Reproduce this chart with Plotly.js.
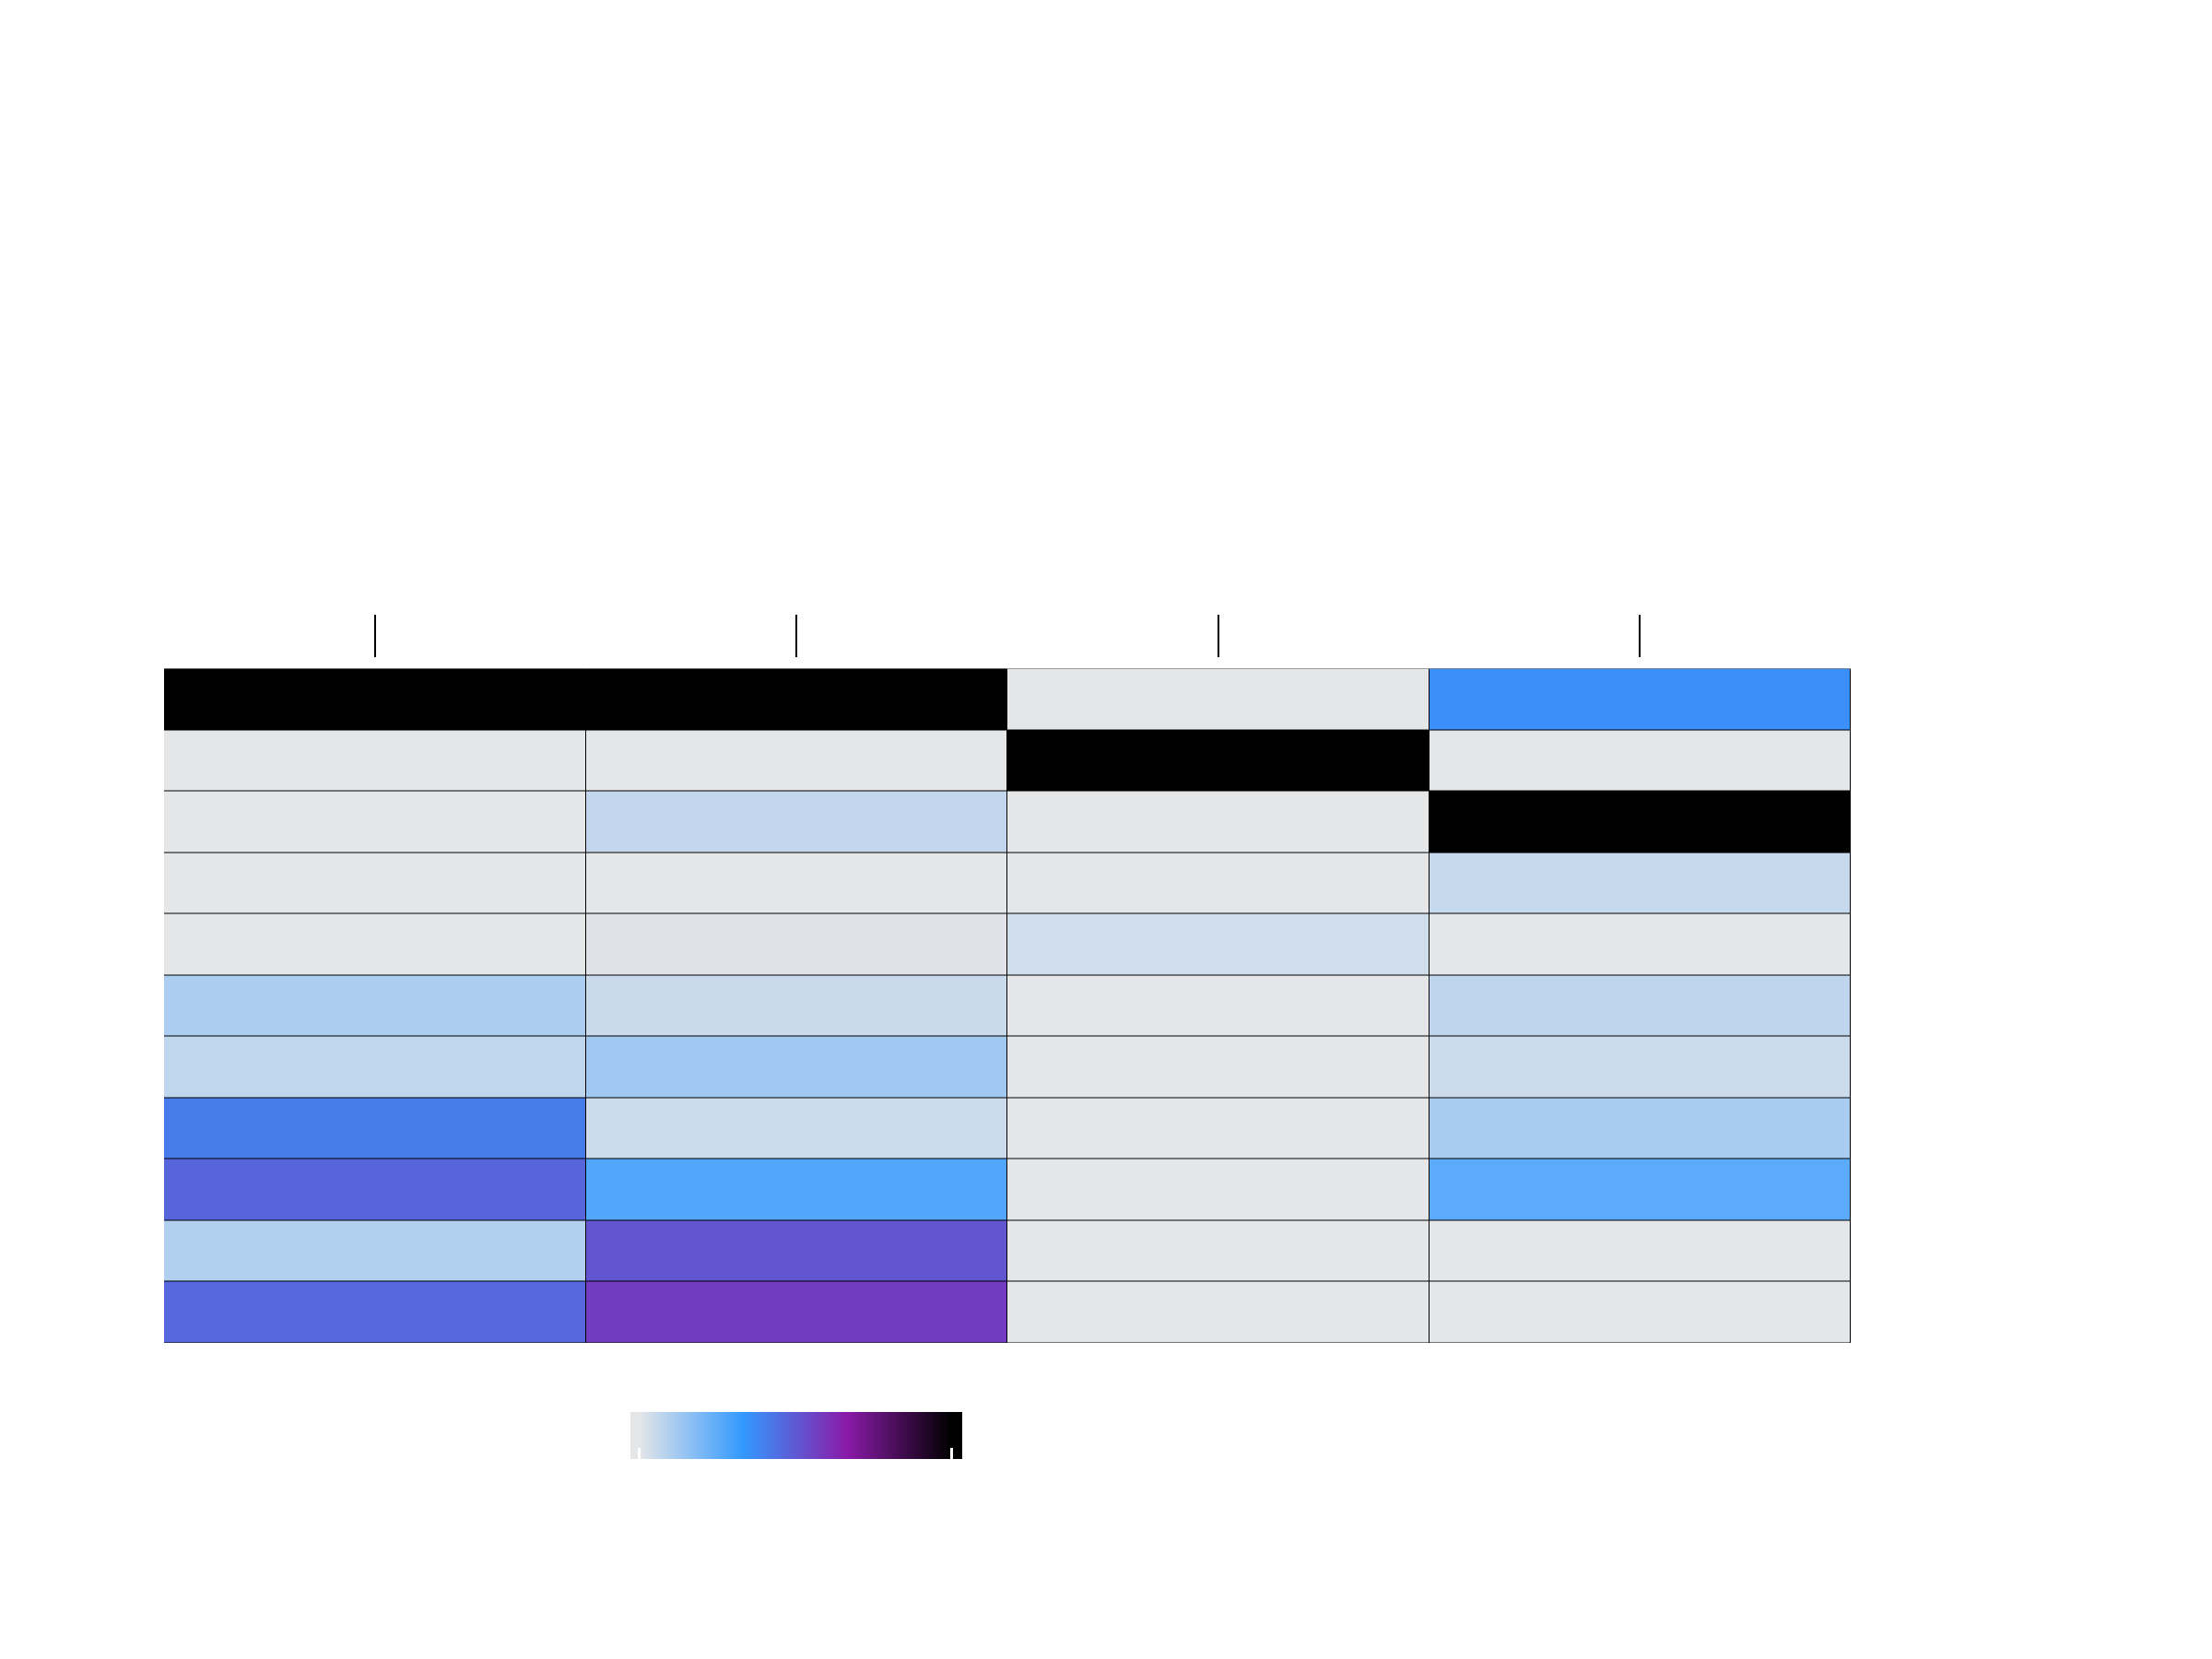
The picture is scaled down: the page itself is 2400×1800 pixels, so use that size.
<!DOCTYPE html>
<html>
<head>
<meta charset="utf-8">
<script src="https://cdn.plot.ly/plotly-3.0.1.min.js"></script>
<style>html,body{margin:0;padding:0;background:#fff;}#chart{width:2400px;height:1800px;}</style>
</head>
<body>
<div id="chart"></div>
<script>
// Column categories (labels are not shown in the reference)
const columns = ['C1', 'C2', 'C3', 'C4'];
// Row categories, top to bottom (labels are not shown in the reference)
const rows = ['R1', 'R2', 'R3', 'R4', 'R5', 'R6', 'R7', 'R8', 'R9', 'R10', 'R11'];

// Cell values per column, rows top to bottom (estimated from colours)
const colC1 = [1.00, 0.00, 0.00, 0.00, 0.00, 0.109, 0.071, 0.413, 0.470, 0.097, 0.468];
const colC2 = [1.00, 0.00, 0.066, 0.00, 0.011, 0.052, 0.129, 0.047, 0.275, 0.513, 0.580];
const colC3 = [0.00, 1.00, 0.00, 0.00, 0.039, 0.00, 0.00, 0.00, 0.00, 0.00, 0.00];
const colC4 = [0.360, 0.00, 1.00, 0.056, 0.00, 0.073, 0.049, 0.114, 0.257, 0.00, 0.00];

// Colour range (slightly wider than the data range, flat ends on the colour bar)
const zLow = -0.027;
const zHigh = 1.035;
const colorValues = [0.0, 0.3333, 0.6667, 1.0];
const colorHex = ['#e5e6e8', '#3399ff', '#8a1aa8', '#000000'];

const norm = v => (v - zLow) / (zHigh - zLow);
const colorStops = [[0, colorHex[0]]]
  .concat(colorValues.map((v, i) => [norm(v), colorHex[i]]))
  .concat([[1, colorHex[colorHex.length - 1]]]);

const allCols = [colC1, colC2, colC3, colC4];
const z = rows.map((r, i) => allCols.map(c => c[i]));

const trace = {
  type: 'heatmap',
  x: columns,
  y: rows,
  z: z,
  zmin: zLow,
  zmax: zHigh,
  colorscale: colorStops,
  xgap: 1,
  ygap: 1,
  hoverinfo: 'skip',
  colorbar: {
    orientation: 'h',
    x: 0.375,
    xanchor: 'center',
    y: -0.1008,
    yanchor: 'top',
    len: 0.1967,
    lenmode: 'fraction',
    thickness: 51,
    thicknessmode: 'pixels',
    xpad: 0,
    ypad: 0,
    outlinewidth: 0,
    ticks: 'inside',
    ticklen: 12,
    tickwidth: 3,
    tickcolor: '#ffffff',
    tickvals: [0, 1],
    showticklabels: false
  }
};

const layout = {
  width: 2400,
  height: 1800,
  margin: {l: 178, r: 392, t: 713, b: 343, pad: 0},
  paper_bgcolor: '#ffffff',
  plot_bgcolor: '#000000',
  showlegend: false,
  xaxis: {
    side: 'top',
    anchor: 'free',
    position: 1,
    type: 'category',
    ticks: 'outside',
    ticklen: 46,
    tickwidth: 2,
    tickcolor: '#000000',
    showticklabels: false,
    showgrid: false,
    zeroline: false,
    showline: false
  },
  yaxis: {
    domain: [0, 0.9832],
    type: 'category',
    autorange: 'reversed',
    showticklabels: false,
    ticks: '',
    showgrid: false,
    zeroline: false,
    showline: false
  }
};

Plotly.newPlot('chart', [trace], layout, {displayModeBar: false, staticPlot: true});
</script>
</body>
</html>
